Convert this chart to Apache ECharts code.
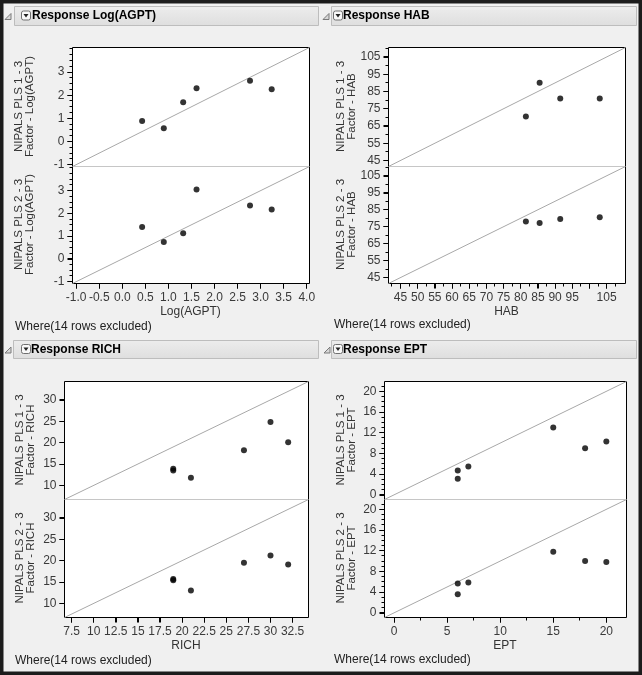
<!DOCTYPE html>
<html><head><meta charset="utf-8">
<script src="https://cdn.jsdelivr.net/npm/echarts@6/dist/echarts.min.js"></script>
<style>html,body{margin:0;padding:0;background:#f0f0f0;} #c{width:642px;height:675px;}</style>
</head><body><div id="c"></div>
<script>
// ---- data (observed response vs. predicted by NIPALS PLS 1-3 and 2-3 factor models) ----
const agptObs  = [0.43, 0.90, 1.32, 1.61, 2.77, 3.24];
const agptPls1 = [0.88, 0.57, 1.69, 2.30, 2.62, 2.26];
const agptPls2 = [1.40, 0.74, 1.13, 3.05, 2.35, 2.17];

const habObs  = [81.5, 85.5, 91.5, 103];
const habPls1 = [70.5, 90, 81, 81];
const habPls2 = [78, 77.2, 79.5, 80.5];

const richObs  = [19, 19, 21, 27, 30, 32];
const richPls1 = [13.9, 13.5, 11.8, 18.2, 24.8, 20.1];
const richPls2 = [15.4, 15.7, 13.0, 19.5, 21.2, 19.1];

const eptObs  = [6, 6, 7, 15, 18, 20];
const eptPls1 = [4.7, 3.1, 5.5, 13.0, 9.0, 10.3];
const eptPls2 = [5.65, 3.6, 5.85, 11.8, 10.0, 9.8];

// ---- tick values / labels ----
const agptXTicks = [-1, -0.5, 0, 0.5, 1, 1.5, 2, 2.5, 3, 3.5, 4];
const agptYTicks = [-1, 0, 1, 2, 3];
const habXTicks  = [45, 50, 55, 60, 65, 70, 75, 80, 85, 90, 95, 100, 105];
const habXLabels = [45, 50, 55, 60, 65, 70, 75, 80, 85, 90, 95, 105];
const habYTicks  = [45, 55, 65, 75, 85, 95, 105];
const richXTicks = [7.5, 10, 12.5, 15, 17.5, 20, 22.5, 25, 27.5, 30, 32.5];
const richYTicks = [10, 15, 20, 25, 30];
const eptXTicks  = [0, 5, 10, 15, 20];
const eptYTicks  = [0, 4, 8, 12, 16, 20];

function minorTicks(lo, hi, step, majors) {
  const out = [];
  const n = Math.round((hi - lo) / step);
  for (let i = 0; i <= n; i++) {
    const v = +(lo + i * step).toFixed(6);
    if (!majors.some(m => Math.abs(m - v) < 1e-9)) out.push(v);
  }
  return out;
}

const FONT = '"Liberation Sans", Arial, sans-serif';
const LBL = '#3a3a3a';

const panels = [
  { title: 'Response Log(AGPT)', xName: 'Log(AGPT)', fac: 'Factor - Log(AGPT)',
    obs: agptObs, p1: agptPls1, p2: agptPls2, range: [-1.08, 4.06],
    xTicks: agptXTicks, xLabels: agptXTicks, xFmt: v => (+v).toFixed(1), xMinor: [],
    yTicks: agptYTicks, yMinor: minorTicks(-1, 4, 0.25, agptYTicks),
    box: { l: 72, r: 309, t: 47, m: 166, b: 283 },
    head: { bx: 14, by: 6, bw: 304, bh: 19, tri: 5, icon: 21, tx: 32 },
    yTitleX: 24.5, xTitleY: 312, whereX: 15, whereY: 327 },
  { title: 'Response HAB', xName: 'HAB', fac: 'Factor - HAB',
    obs: habObs, p1: habPls1, p2: habPls2, range: [41.5, 110.5],
    xTicks: habXTicks, xLabels: habXLabels, xFmt: v => String(v), xMinor: minorTicks(42.5, 107.5, 2.5, habXTicks),
    yTicks: habYTicks, yMinor: minorTicks(45, 110, 5, habYTicks),
    box: { l: 388, r: 625, t: 47, m: 166, b: 283 },
    head: { bx: 331, by: 6, bw: 305, bh: 19, tri: 323, icon: 333, tx: 343 },
    yTitleX: 346, xTitleY: 312, whereX: 334, whereY: 325 },
  { title: 'Response RICH', xName: 'RICH', fac: 'Factor - RICH',
    obs: richObs, p1: richPls1, p2: richPls2, range: [6.7, 34.3],
    xTicks: richXTicks, xLabels: richXTicks, xFmt: v => String(v), xMinor: [],
    yTicks: richYTicks, yMinor: [],
    box: { l: 64, r: 308, t: 381, m: 499, b: 617 },
    head: { bx: 13, by: 340, bw: 305, bh: 18, tri: 5, icon: 21, tx: 31 },
    yTitleX: 25.5, xTitleY: 646, whereX: 15, whereY: 661 },
  { title: 'Response EPT', xName: 'EPT', fac: 'Factor - EPT',
    obs: eptObs, p1: eptPls1, p2: eptPls2, range: [-0.9, 21.9],
    xTicks: eptXTicks, xLabels: eptXTicks, xFmt: v => String(v), xMinor: minorTicks(0, 20, 2.5, eptXTicks),
    yTicks: eptYTicks, yMinor: minorTicks(0, 21, 1, eptYTicks),
    box: { l: 384, r: 626, t: 381, m: 499, b: 617 },
    head: { bx: 331, by: 340, bw: 305, bh: 18, tri: 324, icon: 333, tx: 343 },
    yTitleX: 346.5, xTitleY: 646, whereX: 334, whereY: 660 }
];

const grid = [], xAxis = [], yAxis = [], series = [], graphic = [];

// tick marks drawn through the axis scales (custom series), dir 'y' = left edge, 'x' = bottom edge
function tickSeries(xi, yi, dir, vals, edge, len) {
  return {
    type: 'custom', xAxisIndex: xi, yAxisIndex: yi, clip: false, silent: true, z: 200,
    encode: { x: 0, y: 1 },
    data: vals.map(v => dir === 'y' ? [edge, v] : [v, edge]),
    renderItem: (params, api) => {
      const c = api.coord([api.value(0), api.value(1)]);
      if (dir === 'y') {
        const y = Math.round(c[1] - 0.5) + 0.5, x = c[0];
        return { type: 'line', z2: 100, shape: { x1: x - len, y1: y, x2: x, y2: y }, style: { stroke: '#000', lineWidth: 1 } };
      }
      const x = Math.round(c[0] - 0.5) + 0.5, y = c[1];
      return { type: 'line', z2: 100, shape: { x1: x, y1: y, x2: x, y2: y + len }, style: { stroke: '#000', lineWidth: 1 } };
    }
  };
}

panels.forEach((p, pi) => {
  const B = p.box;
  const w = B.r - B.l;
  const gTop = grid.length;
  grid.push({ left: B.l + 0.5, top: B.t + 0.5, width: w, height: B.m - B.t, show: true,
              backgroundColor: '#fff', borderColor: '#000', borderWidth: 1 });
  const gBot = grid.length;
  grid.push({ left: B.l + 0.5, top: B.m + 0.5, width: w, height: B.b - B.m, show: true,
              backgroundColor: '#fff', borderColor: '#000', borderWidth: 1 });

  const xTop = xAxis.length;
  xAxis.push({ gridIndex: gTop, type: 'value', min: p.range[0], max: p.range[1],
               axisLine: { show: false, onZero: false }, axisTick: { show: false }, axisLabel: { show: false }, splitLine: { show: false } });
  const xBot = xAxis.length;
  xAxis.push({ gridIndex: gBot, type: 'value', min: p.range[0], max: p.range[1],
               axisLine: { show: false, onZero: false }, splitLine: { show: false },
               axisTick: { show: true, length: 5, lineStyle: { color: '#000' }, customValues: p.xTicks },
               axisLabel: { color: LBL, fontFamily: FONT, fontSize: 12, margin: 8,
                            customValues: p.xLabels, formatter: p.xFmt } });
  const mkY = gi => {
    yAxis.push({ gridIndex: gi, type: 'value', min: p.range[0], max: p.range[1],
      axisLine: { show: false, onZero: false }, splitLine: { show: false },
      axisTick: { show: true, length: 5, lineStyle: { color: '#000' }, customValues: p.yTicks },
      axisLabel: { color: LBL, fontFamily: FONT, fontSize: 12, margin: 8, customValues: p.yTicks,
                   formatter: v => String(v) } });
    return yAxis.length - 1;
  };
  const yTop = mkY(gTop);
  const yBot = mkY(gBot);

  const diag = [[p.range[0], p.range[0]], [p.range[1], p.range[1]]];
  [[xTop, yTop, p.p1], [xBot, yBot, p.p2]].forEach(([xi, yi, vals]) => {
    series.push({ type: 'line', xAxisIndex: xi, yAxisIndex: yi, data: diag, symbol: 'none', silent: true,
                  lineStyle: { color: '#a8a8a8', width: 1 }, z: 2 });
    series.push({ type: 'scatter', xAxisIndex: xi, yAxisIndex: yi, symbolSize: 6, silent: true,
                  itemStyle: { color: '#000' }, z: 3,
                  data: p.obs.map((x, i) => [x, vals[i]]) });
    series.push(tickSeries(xi, yi, 'y', p.yTicks, p.range[0], 5));
    if (p.yMinor.length) series.push(tickSeries(xi, yi, 'y', p.yMinor, p.range[0], 3));
  });
  series.push(tickSeries(xBot, yBot, 'x', p.xTicks, p.range[0], 5));
  if (p.xMinor.length) series.push(tickSeries(xBot, yBot, 'x', p.xMinor, p.range[0], 3));

  graphic.push({ type: 'line', z: 50, silent: true,
    shape: { x1: B.l + 1, y1: B.m + 0.5, x2: B.r, y2: B.m + 0.5 },
    style: { stroke: '#c6c6c6', lineWidth: 1 } });

  const yc1 = (B.t + B.m) / 2, yc2 = (B.m + B.b) / 2;
  [['NIPALS PLS 1 - 3', yc1], ['NIPALS PLS 2 - 3', yc2]].forEach(([t, yc]) => {
    graphic.push({ type: 'text', x: p.yTitleX, y: yc, rotation: Math.PI / 2, silent: true, z: 60,
      style: { text: t + '\n' + p.fac, font: '11.5px ' + FONT, fill: '#333', align: 'center',
               verticalAlign: 'middle', lineHeight: 11 } });
  });
  graphic.push({ type: 'text', x: (B.l + B.r) / 2, y: p.xTitleY, silent: true, z: 60,
    style: { text: p.xName, font: '12px ' + FONT, fill: '#333', align: 'center', verticalAlign: 'middle' } });
  graphic.push({ type: 'text', x: p.whereX, y: p.whereY, silent: true, z: 60,
    style: { text: 'Where(14 rows excluded)', font: '12px ' + FONT, fill: '#222', align: 'left', verticalAlign: 'middle' } });

  const H = p.head;
  const hc = H.by + H.bh / 2;
  graphic.push({ type: 'rect', z: 40, silent: true,
    shape: { x: H.bx + 0.5, y: H.by + 0.5, width: H.bw, height: H.bh },
    style: { fill: new echarts.graphic.LinearGradient(0, 0, 0, 1, [{ offset: 0, color: '#ededed' }, { offset: 1, color: '#dedede' }]),
             stroke: '#bdbdbd', lineWidth: 1 } });
  graphic.push({ type: 'polygon', z: 45, silent: true,
    shape: { points: [[H.tri, hc + 4], [H.tri + 6, hc + 4], [H.tri + 6, hc - 2]] },
    style: { fill: '#d8d8d8', stroke: '#7a7a7a', lineWidth: 1 } });
  graphic.push({ type: 'rect', z: 45, silent: true,
    shape: { x: H.icon + 0.5, y: hc - 4.5, width: 9, height: 9, r: 2 },
    style: { fill: '#f8f8f8', stroke: '#707070', lineWidth: 1 } });
  graphic.push({ type: 'polygon', z: 46, silent: true,
    shape: { points: [[H.icon + 2.5, hc - 1.5], [H.icon + 7.5, hc - 1.5], [H.icon + 5, hc + 2]] },
    style: { fill: '#222' } });
  graphic.push({ type: 'text', x: H.tx, y: hc + 0.5, z: 47, silent: true,
    style: { text: p.title, font: 'bold 12px ' + FONT, fill: '#000', align: 'left', verticalAlign: 'middle' } });
});

graphic.push({ type: 'rect', z: 100, silent: true,
  shape: { x: 0, y: 0, width: 642, height: 675 },
  style: { fill: 'none', stroke: '#1c1c1c', lineWidth: 7 } });

const chart = echarts.init(document.getElementById('c'), null, { renderer: 'canvas' });
chart.setOption({
  backgroundColor: '#f0f0f0',
  animation: false,
  grid, xAxis, yAxis, series, graphic
});
</script>
</body></html>
